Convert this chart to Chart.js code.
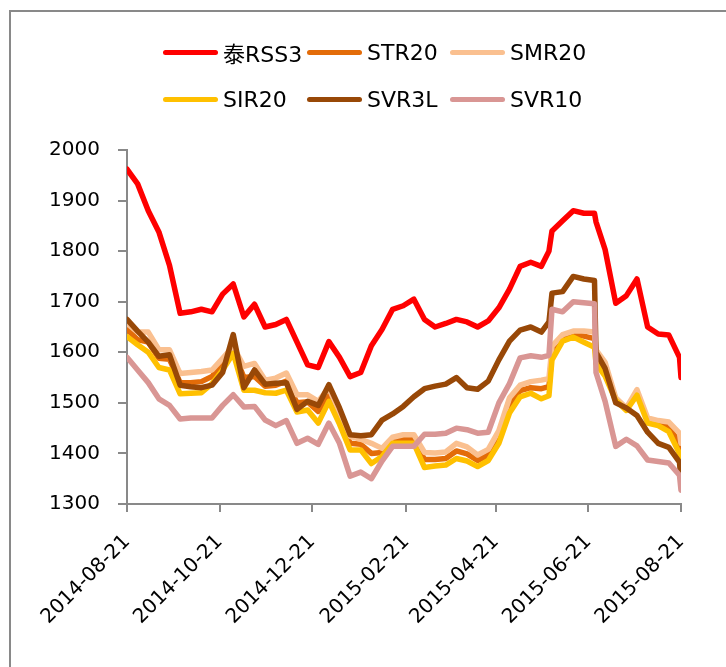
<!DOCTYPE html>
<html>
<head>
<meta charset="utf-8">
<script src="https://cdn.jsdelivr.net/npm/chart.js@4.4.1/dist/chart.umd.min.js"></script>
<style>
body { margin: 0; background: #fff; }
#wrap { position: relative; width: 726px; height: 667px; overflow: hidden; background: #fff; }
#frame { position: absolute; left: 9px; top: 10px; width: 800px; height: 800px;
  border-left: 2px solid #898989; border-top: 2px solid #898989; }
canvas { position: absolute; left: 0; top: 0; }
#legend { position: absolute; left: 0; top: 0; width: 726px; height: 130px;
  font-family: "DejaVu Sans", "Noto Sans CJK SC", sans-serif; font-size: 22px; color: #000; }
.item { position: absolute; height: 30px; display: flex; align-items: center; white-space: nowrap; }
.sw { display: inline-block; width: 55px; height: 5px; border-radius: 3px; margin-right: 5px; }
</style>
</head>
<body>
<div id="wrap">
  <div id="frame"></div>
  <canvas id="lineChart" width="726" height="667"></canvas>
  <div id="legend"></div>
</div>
<script>
// weekly readings, 2014-08-21 .. 2015-08-21 (plus two days around the big jumps)
var dates = [
  "2014-08-21", "2014-08-28", "2014-09-04", "2014-09-11", "2014-09-18", "2014-09-25",
  "2014-10-02", "2014-10-09", "2014-10-16", "2014-10-23", "2014-10-30",
  "2014-11-06", "2014-11-13", "2014-11-20", "2014-11-27",
  "2014-12-04", "2014-12-11", "2014-12-18", "2014-12-25",
  "2015-01-01", "2015-01-08", "2015-01-15", "2015-01-22", "2015-01-29",
  "2015-02-05", "2015-02-12", "2015-02-19", "2015-02-26",
  "2015-03-05", "2015-03-12", "2015-03-19", "2015-03-26",
  "2015-04-02", "2015-04-09", "2015-04-16", "2015-04-23", "2015-04-30",
  "2015-05-07", "2015-05-14", "2015-05-21", "2015-05-26", "2015-05-28",
  "2015-06-04", "2015-06-11", "2015-06-18", "2015-06-25", "2015-06-26",
  "2015-07-02", "2015-07-09", "2015-07-16", "2015-07-23", "2015-07-30",
  "2015-08-06", "2015-08-13", "2015-08-20", "2015-08-21"
];
var tickLabels = ["2014-08-21", "2014-10-21", "2014-12-21", "2015-02-21", "2015-04-21", "2015-06-21", "2015-08-21"];

var rss3 = [1962, 1933, 1880, 1838, 1772, 1677, 1680, 1685, 1680, 1715, 1735,
  1670, 1695, 1650, 1655, 1665, 1620, 1575, 1570,
  1621, 1590, 1552, 1560, 1613, 1645, 1685, 1692, 1705,
  1665, 1650, 1657, 1665, 1660, 1650, 1662, 1688, 1725,
  1770, 1778, 1770, 1800, 1840, 1860, 1880, 1875, 1875, 1858,
  1803, 1697, 1712, 1745, 1650, 1636, 1634, 1590, 1550];
var str20 = [1645, 1625, 1620, 1588, 1586, 1540, 1540, 1542, 1552, 1578, 1604,
  1550, 1552, 1533, 1535, 1543, 1500, 1502, 1483,
  1518, 1470, 1420, 1418, 1400, 1402, 1427, 1428, 1428,
  1388, 1388, 1390, 1405, 1399, 1386, 1397, 1432, 1495,
  1524, 1530, 1528, 1532, 1598, 1628, 1636, 1632, 1627, 1600,
  1567, 1508, 1487, 1520, 1465, 1460, 1452, 1420, 1395];
var smr20 = [1657, 1640, 1640, 1605, 1605, 1558, 1560, 1562, 1565, 1588, 1612,
  1572, 1578, 1545, 1549, 1559, 1516, 1516, 1503,
  1530, 1480, 1434, 1428, 1420, 1410, 1432, 1437, 1437,
  1402, 1401, 1403, 1420, 1413, 1397, 1408, 1445, 1510,
  1535, 1542, 1545, 1548, 1612, 1635, 1642, 1642, 1640, 1605,
  1580, 1510, 1490, 1526, 1470, 1465, 1462, 1440, 1420];
var sir20 = [1631, 1615, 1600, 1570, 1565, 1518, 1519, 1520, 1538, 1565, 1598,
  1525, 1525, 1520, 1519, 1525, 1482, 1486, 1460,
  1503, 1458, 1407, 1407, 1380, 1394, 1420, 1420, 1420,
  1372, 1375, 1377, 1390, 1385, 1374, 1386, 1420, 1480,
  1512, 1519, 1508, 1514, 1585, 1622, 1630, 1620, 1610, 1578,
  1553, 1505, 1485, 1515, 1460, 1455, 1443, 1400, 1368];
var svr3l = [1665, 1642, 1620, 1592, 1595, 1535, 1532, 1530, 1535, 1560, 1635,
  1530, 1565, 1537, 1539, 1540, 1487, 1503, 1495,
  1536, 1490, 1437, 1435, 1437, 1466, 1478, 1493, 1512,
  1528, 1533, 1537, 1550, 1530, 1527, 1543, 1585, 1622,
  1644, 1650, 1640, 1660, 1717, 1720, 1750, 1745, 1742, 1600,
  1568, 1500, 1490, 1475, 1442, 1420, 1412, 1383, 1345];
var svr10 = [1590, 1565, 1540, 1508, 1495, 1468, 1470, 1470, 1470, 1495, 1516,
  1492, 1493, 1466, 1455, 1465, 1420, 1430, 1418,
  1460, 1420, 1355, 1363, 1350, 1385, 1414, 1414, 1414,
  1438, 1438, 1440, 1450, 1447, 1440, 1442, 1500, 1538,
  1589, 1593, 1590, 1594, 1685, 1680, 1700, 1698, 1696, 1560,
  1503, 1414, 1428, 1415, 1387, 1384, 1381, 1357, 1327];

var names = ["泰RSS3", "STR20", "SMR20", "SIR20", "SVR3L", "SVR10"];
var series = [rss3, str20, smr20, sir20, svr3l, svr10];
var colors = ["#ff0000", "#e36c09", "#fac090", "#ffc000", "#984807", "#d99694"];

function dayOf(d) {
  return (Date.parse(d) - Date.parse(dates[0])) / 86400000;
}

var axisGray = "#898989";
var axisFont = { family: "'DejaVu Sans', sans-serif", size: 20 };

var datasets = series.map(function (vals, i) {
  return {
    label: names[i],
    data: vals.map(function (v, j) { return { x: dayOf(dates[j]), y: v }; }),
    borderColor: colors[i],
    backgroundColor: colors[i],
    borderWidth: 5.5,
    pointRadius: 0,
    tension: 0,
    borderJoinStyle: "round",
    borderCapStyle: "round",
    order: series.length - i   // later series on top, like the original
  };
});

new Chart("lineChart", {
  type: "line",
  data: { datasets: datasets },
  options: {
    responsive: false,
    animation: false,
    layout: { padding: { top: 150, right: 45, left: 0, bottom: 0 } },
    plugins: { legend: { display: false }, tooltip: { enabled: false } },
    scales: {
      x: {
        type: "linear",
        min: 0,
        max: dayOf(dates[dates.length - 1]),
        afterBuildTicks: function (scale) {
          scale.ticks = tickLabels.map(function (t) { return { value: dayOf(t) }; });
        },
        afterFit: function (scale) { scale.height = 163; },
        ticks: {
          autoSkip: false,
          minRotation: 45,
          maxRotation: 45,
          padding: 18,
          color: "#000",
          font: axisFont,
          callback: function (v, i) { return tickLabels[i]; }
        },
        grid: { drawOnChartArea: false, drawTicks: true, tickLength: 8, color: axisGray, lineWidth: 2 },
        border: { color: axisGray, width: 2 }
      },
      y: {
        min: 1300,
        max: 2000,
        afterFit: function (scale) { scale.width = 127; },
        ticks: {
          stepSize: 100, padding: 18, color: "#000", font: axisFont,
          callback: function (v) { return String(v); }
        },
        grid: { drawOnChartArea: false, drawTicks: true, tickLength: 9, color: axisGray, lineWidth: 2 },
        border: { color: axisGray, width: 2 }
      }
    }
  }
});

// legend in two rows of three, as in the original
var legendCols = [163, 307, 450];
var legendRows = [37, 84];
var legend = document.getElementById("legend");
names.forEach(function (n, i) {
  var item = document.createElement("div");
  item.className = "item";
  item.style.left = legendCols[i % 3] + "px";
  item.style.top = legendRows[Math.floor(i / 3)] + "px";
  var sw = document.createElement("span");
  sw.className = "sw";
  sw.style.background = colors[i];
  item.appendChild(sw);
  item.appendChild(document.createTextNode(n));
  legend.appendChild(item);
});
</script>
</body>
</html>
